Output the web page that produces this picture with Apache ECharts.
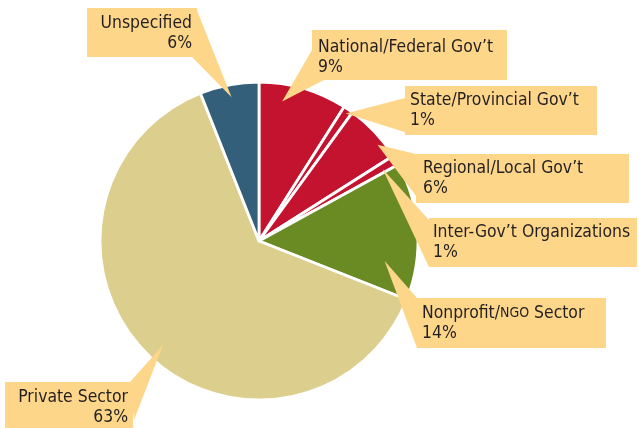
<!DOCTYPE html>
<html><head><meta charset="utf-8">
<script src="https://cdn.jsdelivr.net/npm/echarts@6/dist/echarts.min.js"></script>
<style>html,body{margin:0;padding:0;background:#fff}#c{width:639px;height:428px}</style>
</head><body><div id="c"></div>
<script>
const categories = ['National/Federal Gov\u2019t','State/Provincial Gov\u2019t','Regional/Local Gov\u2019t','Inter-Gov\u2019t Organizations','Nonprofit/NGO Sector','Private Sector','Unspecified'];
const values = [9, 1, 6, 1, 14, 63, 6];
const colors = ['#C3132F','#C3132F','#C3132F','#C3132F','#6A8B24','#DCCF8D','#335F7A'];

// callout layout (label boxes, not data marks)
const callouts = [
  {box:[312,30,195,50], base:[[312,50],[324,80]], t:0.29, rf:0.89, tx:318, ty:37, align:'left'},
  {box:[405,86,192,49], base:[[405,98],[414,135]], t:0.5, rf:0.97, tx:410, ty:90, align:'left'},
  {box:[416,154,213,49], base:[[416,154],[416,196]], t:0.69, rf:0.96, tx:423, ty:158, align:'left'},
  {box:[429,218,208,49], base:[[429,220],[429,267]], t:0.6, rf:0.9, tx:433, ty:222, align:'left'},
  {box:[417,298,189,50], base:[[417,298],[417,348]], t:0.75, rf:0.8, tx:422, ty:303, align:'left'},
  {box:[5,382,128,46], base:[[130,382],[134,420]], t:0.49, rf:0.89, tx:128, ty:387, align:'right'},
  {box:[87,8,110,49], base:[[196,8],[192,57]], t:0.5, rf:0.92, tx:192, ty:13, align:'right'}
];

const chart = echarts.init(document.getElementById('c'), null, {renderer:'canvas'});
chart.setOption({
  animation:false,
  series:[{
    type:'pie',
    center:[259,241],
    radius:[0,159],
    startAngle:90,
    clockwise:true,
    label:{show:false},
    labelLine:{show:false},
    itemStyle:{borderColor:'#fff', borderWidth:2.8},
    emphasis:{disabled:true},
    data: categories.map((n,i)=>({name:n, value:values[i], itemStyle:{color:colors[i]}}))
  }]
});

const data = chart.getModel().getSeriesByIndex(0).getData();
const FONT = '"Liberation Sans Narrow","DejaVu Sans Condensed",sans-serif';
const els = [];
callouts.forEach((c,i)=>{
  const L = data.getItemLayout(i);
  const a = L.startAngle + c.t*(L.endAngle - L.startAngle);
  const tip = [L.cx + L.r*c.rf*Math.cos(a), L.cy + L.r*c.rf*Math.sin(a)];
  els.push({type:'rect', z:10, shape:{x:c.box[0],y:c.box[1],width:c.box[2],height:c.box[3]}, style:{fill:'#FDD68A'}});
  els.push({type:'polygon', z:10, shape:{points:[c.base[0], tip, c.base[1]]}, style:{fill:'#FDD68A'}});
  let name = categories[i].replace('NGO','{sc|NGO}');
  els.push({type:'text', z:11, x:c.tx, y:c.ty, style:{
    text: name + '\n' + values[i] + '%',
    fill:'#231F20', fontSize:17.4, fontFamily:FONT, lineHeight:20,
    align:c.align, verticalAlign:'top',
    rich:{sc:{fontSize:14, fontFamily:FONT, fill:'#231F20'}}
  }});
});
chart.setOption({graphic:{elements:els}});
</script></body></html>
